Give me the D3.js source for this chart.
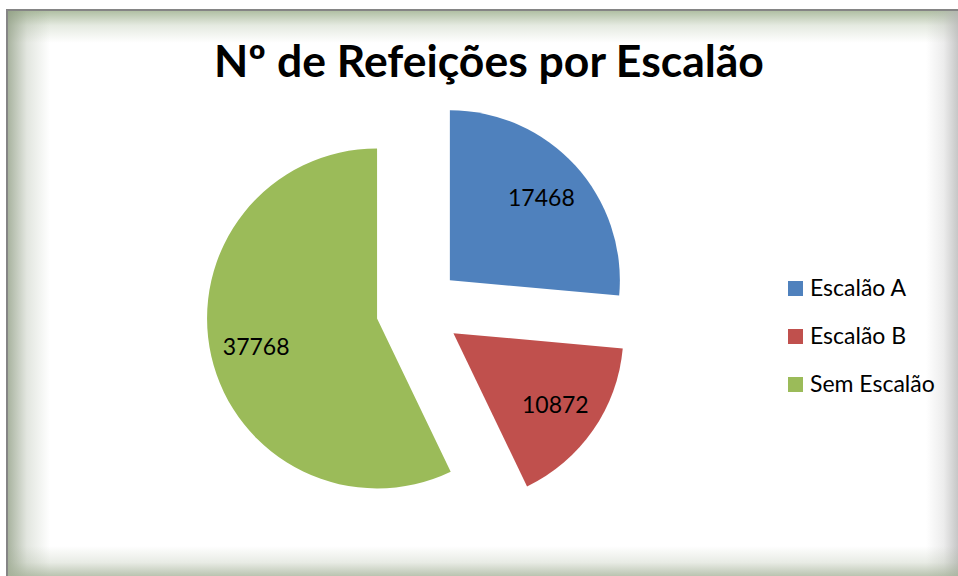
<!DOCTYPE html>
<html>
<head>
<meta charset="utf-8">
<script src="https://cdn.jsdelivr.net/npm/d3@7/dist/d3.min.js"></script>
<style>
  html, body { margin: 0; padding: 0; background: #fff; }
  svg { display: block; }
</style>
</head>
<body>
<div id="chart"></div>
<script>
// data
const title = "Nº de Refeições por Escalão";
const categories = ["Escalão A", "Escalão B", "Sem Escalão"];
const values = [17468, 10872, 37768];
const colors = ["#4f81bd", "#c0504d", "#9bbb59"];

const width = 958, height = 576;
const cx = 418.5, cy = 309, radius = 170;
const explode = radius * 0.25;
const font = "Lato, 'Open Sans', sans-serif";

const svg = d3.select("#chart")
  .append("svg")
    .attr("width", width)
    .attr("height", height);

// frame with soft inner glow
const defs = svg.append("defs");
function grad(id, x1, y1, x2, y2, col) {
  const g = defs.append("linearGradient").attr("id", id)
    .attr("x1", x1).attr("y1", y1).attr("x2", x2).attr("y2", y2);
  g.append("stop").attr("offset", "0%").attr("stop-color", col).attr("stop-opacity", 0.75);
  g.append("stop").attr("offset", "45%").attr("stop-color", col).attr("stop-opacity", 0.25);
  g.append("stop").attr("offset", "100%").attr("stop-color", col).attr("stop-opacity", 0);
}
grad("gTop", 0, 0, 0, 1, "#97ab86");
grad("gLeft", 0, 0, 1, 0, "#8c9a80");
grad("gRight", 1, 0, 0, 0, "#b4b4b4");
grad("gBottom", 0, 1, 0, 0, "#a3b096");

const fx = 8, fy = 11;
svg.append("rect").attr("x", 6).attr("y", 9).attr("width", width).attr("height", height)
  .attr("fill", "#858585");
svg.append("rect").attr("x", fx).attr("y", fy).attr("width", width).attr("height", height)
  .attr("fill", "#fff");
svg.append("rect").attr("x", fx).attr("y", fy).attr("width", width - fx).attr("height", 32)
  .attr("fill", "url(#gTop)");
svg.append("rect").attr("x", fx).attr("y", fy).attr("width", 42).attr("height", height - fy)
  .attr("fill", "url(#gLeft)");
svg.append("rect").attr("x", width - 32).attr("y", fy).attr("width", 32).attr("height", height - fy)
  .attr("fill", "url(#gRight)");
svg.append("rect").attr("x", fx).attr("y", height - 30).attr("width", width - fx).attr("height", 30)
  .attr("fill", "url(#gBottom)");

// title
svg.append("text")
  .attr("x", 489)
  .attr("y", 77)
  .attr("text-anchor", "middle")
  .style("font-family", font)
  .style("font-weight", "bold")
  .style("font-size", "44.5px")
  .style("fill", "#000")
  .text(title);

// pie
const pie = d3.pie().sort(null).value(d => d);
const arcs = pie(values);
const arcGen = d3.arc().innerRadius(0).outerRadius(radius);
const labelArc = d3.arc().innerRadius(124).outerRadius(124);

function offset(d) {
  const a = (d.startAngle + d.endAngle) / 2;
  return [cx + Math.sin(a) * explode, cy - Math.cos(a) * explode];
}

const slices = svg.selectAll("g.slice")
  .data(arcs)
  .join("g")
    .attr("class", "slice")
    .attr("transform", d => `translate(${offset(d)})`);

slices.append("path")
  .attr("d", arcGen)
  .attr("fill", (d, i) => colors[i]);

slices.append("text")
  .attr("transform", d => `translate(${labelArc.centroid(d)})`)
  .attr("text-anchor", "middle")
  .attr("dy", "0.4em")
  .style("font-family", font)
  .style("font-size", "23px")
  .style("fill", "#000")
  .text(d => d.data);

// legend
const legend = svg.selectAll("g.legend")
  .data(categories)
  .join("g")
    .attr("class", "legend")
    .attr("transform", (d, i) => `translate(788, ${281 + i * 48})`);

legend.append("rect")
  .attr("width", 15)
  .attr("height", 15)
  .attr("fill", (d, i) => colors[i]);

legend.append("text")
  .attr("x", 22)
  .attr("y", 15)
  .style("font-family", font)
  .style("font-size", "23px")
  .style("fill", "#000")
  .text(d => d);
</script>
</body>
</html>
